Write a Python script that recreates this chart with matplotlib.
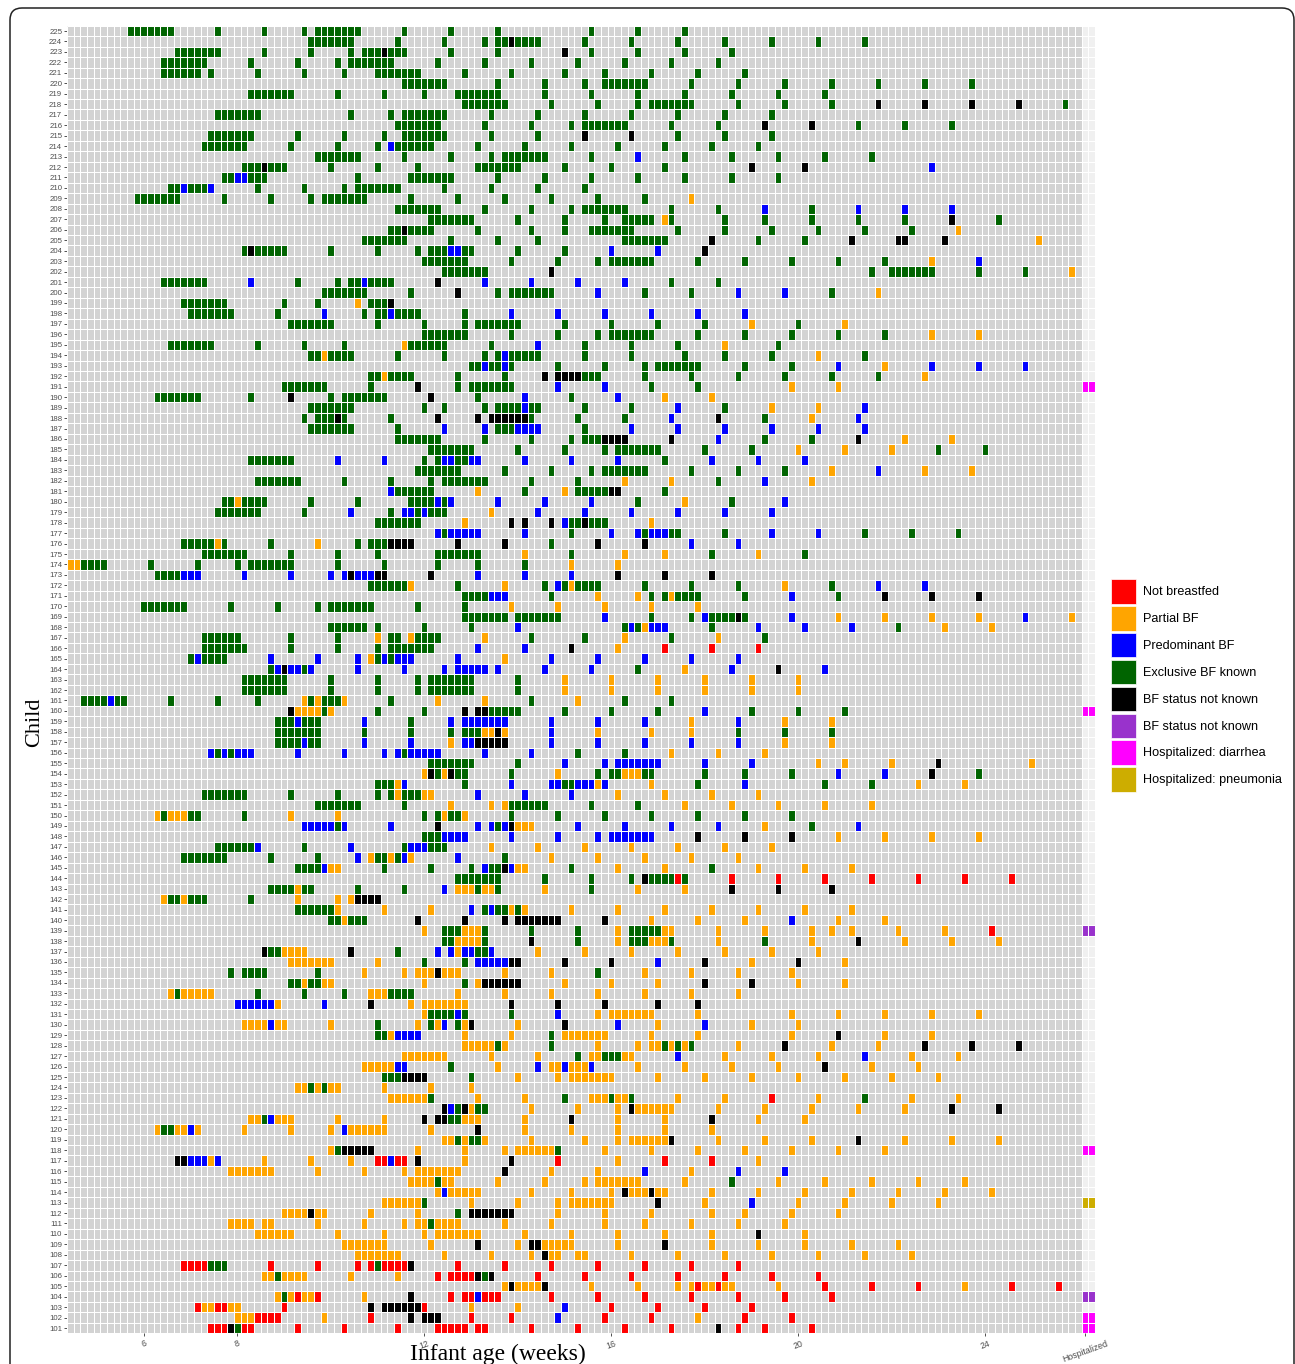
import numpy as np
import matplotlib
matplotlib.use("Agg")
import matplotlib.pyplot as plt
from matplotlib.colors import ListedColormap
from matplotlib.patches import Patch, FancyBboxPatch
from matplotlib.transforms import IdentityTransform

W, H = 1295, 1364
first_day = 31
n_days = 152
week_ticks = [6, 8, 12, 16, 20, 24]

status_labels = ["Not breastfed", "Partial BF", "Predominant BF", "Exclusive BF known",
                 "BF status not known", "BF status not known",
                 "Hospitalized: diarrhea", "Hospitalized: pneumonia"]
status_colors = ["#FF0000", "#FFA500", "#0000FF", "#006400", "#000000", "#9932CC", "#FF00FF", "#CDAD00"]

hosp_children = [191, 160, 139, 118, 113, 104, 102, 101]
hosp_codes = ["m", "m", "p", "m", "y", "p", "m", "m"]

# one string per child, day offsets from first_day; a letter sets the status for what follows
children_225_201 = [
"g 9-15 22 29 35 37-43 50 57 64 78 85 92",
"g 36-42 49 56 62 64 65 k 66 g 67-70 77 84 91 98 105 112 119",
"g 16-22 29 36 42 44-46 k 47 g 48-50 57 64 k 74 g 78 85 92 99",
"g 14-20 27 34 40 42-48 55 62 69 76 83 90 97",
"g 14-19 21 28 35 41 46-52 59 66 74 80 87 94 101",
"g 50-56 64 71 77 80-86 93 100 107 114 121 128 135",
"g 27-33 40 47 53 58-64 71 78 85 92 99 106 113",
"g 59-65 72 79 85 87-93 100 107 114 k 121 128 135 142 g 149",
"g 22-28 42 48 50-56 63 70 77 84 91 98 105",
"g 49-55 62 69 75 77-83 90 97 k 104 111 g 118 125 132",
"g 21-27 34 41 47 50-56 63 70 k 77 84 g 91 98 105",
"g 20-26 33 40 46 b 48 g 49-54 61 68 75 82 89 96 103",
"g 37-43 50 57 63 65-71 78 b 85 g 92 99 106 113 120",
"g 26-28 k 29 g 30-32 39 46 52 61-67 74 81 89 k 102 110 b 129",
"g 23 24 b 25 26 g 27-29 43 51-57 64 71 78 85 92 99 106",
"g 15 16 b 17 g 18-20 b 21 g 28 35 41 43-49 56 63 70 77",
"g 10-16 23 30 36 38-44 51 58 65 72 79 86 o 93",
"g 49-55 62 69 75 77-83 90 97 b 104 g 111 b 118 125 132",
"g 54-60 67 74 80 83-87 o 89 g 90 98 104 111 118 125 k 132 g 139",
"g 48 49 k 50 g 51-54 61 69 74 78-84 91 98 105 112 119 126 o 133",
"g 44-50 57 64 70 83-89 k 96 g 103 110 k 117 124 125 131 o 145",
"g 26 k 27 g 28-32 39 46 52 54-56 b 57 58 g 59 60 67 74 b 81 88 k 95",
"g 53-59 66 73 79 81-87 94 101 108 115 122 o 129 b 136",
"g 56-62 k 72 g 120 123-129 136 143 o 150",
"g 14-20 b 27 g 34 40 42 43 b 44 g 45-48 k 55 b 62 69 76 83 g 90 97",
]
children_200_176 = [
"g 38-44 51 k 58 g 64 66-72 b 79 g 86 93 b 100 107 g 114 o 121",
"g 17-23 32 37 o 43 g 45-47 k 48",
"g 18-24 31 b 38 g 44 46 47 b 48 g 49-52 59 b 66 73 80 87 94 101",
"g 33-39 46 53 59 61-67 74 81 88 95 o 102 g 109 o 116",
"g 53-59 66 73 79 81-87 94 101 108 115 122 o 129 136",
"g 15-21 28 35 41 o 50 g 51-56 63 b 70 g 77 84 91 o 98 g 106",
"g 36 37 o 38 g 39-42 49 56 62 64 b 65 g 66-70 77 84 92 98 105 o 112 g 119",
"g 60 61 b 62 g 63 64 b 65 g 66 73 80 86 88-94 101 108 b 115 o 122 b 129 136 143",
"g 45 46 o 47 g 48-51 58 65 k 71 73-76 g 77-79 86 93 100 107 114 121 o 128",
"g 32-38 45 k 52 g 58 60-66 b 73 80 g 87 94 o 108 115",
"g 13-19 27 k 33 g 39 41-47 k 54 g 61 b 68 g 75 b 82 o 89 96",
"g 36-42 53 56 62 64-67 b 68 g 69 70 77 84 b 91 g 98 o 105 112 b 119",
"g 35 37-39 k 40 g 41 48 k 55 61 63-68 g 69 76 83 b 90 k 97 g 104 o 111 b 118",
"g 36-42 49 b 56 62 g 64-66 b 67-70 g 77 b 84 91 98 105 112 119",
"g 49-55 62 69 75 77-79 k 80-83 90 b 97 g 104 111 k 118 o 125 132",
"g 54-60 67 74 80 82-88 95 102 o 109 116 123 g 130 137",
"g 27-33 b 40 47 g 53 55 b 56 57 g 58 59 b 60 61 68 75 82 g 89 b 96 103 110",
"g 52-58 65 72 78 80-86 93 100 107 o 114 b 121 o 128 135",
"g 28-34 41 48 54 56-62 69 76 o 83 90 g 97 b 104 o 111",
"b 48 g 49-54 o 61 g 68 o 74 g 76-80 k 81 82 g 89",
"g 23 24 o 25 g 26-29 36 43 51-54 b 55 g 56 b 57 64 71 78 g 85 o 92 g 99 b 107",
"g 22-28 35 b 42 g 48 b 50 51 g 52 b 53 g 54-56 o 63 b 70 77 84 91 98 105",
"g 46-52 o 59 k 66 68 72 b 74 g 75 76 k 77 g 78-80 o 87",
"b 55 g 56 b 57-61 68 g 75 b 81 85 g 86 b 87-89 g 90 91 98 b 105 112 g 119 126 133",
"g 17-21 o 22 g 23 30 o 37 g 43 45-47 k 48-51 58 65 g 72 k 79 86 b 93 100",
]
children_175_151 = [
"g 20-26 33 40 46 55-61 o 68 g 75 o 83 89 g 96 o 103 g 110",
"o 0 1 g 2-5 12 19 25 27-33 40 47 55 61 68 o 75 82",
"g 13-16 b 17-19 26 33 39 41 k 42 b 43-45 k 46 47 54 b 61 68 75 k 82 89 96",
"g 45-50 o 51 g 58 o 65 g 71 b 73 g 74 o 75 g 76-79 86 93 100 o 107 g 114 b 121 128",
"g 59-62 b 63-65 g 72 o 79 85 g 87 89 o 90 g 91-94 101 b 108 g 115 k 122 129 136",
"g 11-17 24 31 37 39-45 52 59 o 66 73 80 87 94",
"g 59-65 67-73 b 80 g 87 93 b 95 g 96-99 k 100 g 101 b 108 o 115 122 129 136 b 143 o 150",
"g 39-44 46 53 60 b 67 g 83 b 84 g 85 o 86 b 87-89 g 96 b 103 110 117 g 124 o 131 138",
"g 20-25 33 40 o 46 g 48 49 o 51 g 52-55 o 62 g 69 77 o 83 g 90 o 97 g 104",
"g 20-26 33 40 46 48-54 b 61 68 k 75 o 82 r 89 96 103",
"g 18 b 19 g 20-23 b 30 37 43 o 45 g 46 b 47 g 48 b 49-51 58 o 65 b 72 79 86 93 100",
"g 30 b 31 k 32 b 33 34 g 35 b 36 43 50 56 58-62 64 71 78 g 85 o 92 b 99 k 106 b 113",
"g 26-32 39 46 52 54-60 67 o 74 81 88 95 102 109",
"g 26-32 39 46 52 54-60 67 o 74 81 88 95 102 109",
"g 2-5 b 6 g 7 8 15 22 28 o 35 g 36 o 37 g 38-40 o 41 g 48 o 55 62 g 69 o 76 g 83 90",
"k 33 o 34-37 g 38 o 39 g 46 53 k 59 61 62 g 63-67 74 81 88 b 95 g 102 109 116",
"g 31-33 b 34 g 35-37 b 44 g 51 b 57 59-65 72 79 86 o 93 b 100 o 107 114",
"g 31-37 44 51 57 59-61 o 62 63 k 64 o 65 b 72 o 79 87 93 g 100 107 114",
"g 31-34 b 35 g 36 37 b 44 51 o 57 b 59 60 k 61-65 b 72 79 86 93 100 o 107 114",
"b 21 g 22 b 23 g 24 b 25-27 34 41 47 49 g 50 b 51-55 62 69 g 76 83 o 90 97 104",
"g 54-60 67 b 74 80 82-88 95 102 o 112 116 123 k 130 o 144",
"o 53 k 54 g 55 o 56 k 57 g 58 59 66 o 73 g 79 81 82 o 83-85 g 86 87 95 101 108 b 115 122 k 129 g 136",
"g 46-48 o 49 b 50 g 59 b 66 72 73 g 74 75 b 76-78 o 79 b 80 o 87 g 94 b 101 g 113 120 o 127 134",
"g 20-26 33 40 46 48 o 49 g 50-52 o 53 54 b 61 68 75 o 82 89 96 103",
"g 37-43 50 o 57 63 65 g 66-71 78 85 o 92 99 106 113 120",
]
children_150_126 = [
"o 13 g 14 o 15-17 g 18 19 26 o 33 40 g 53 55 o 56 g 57 58 o 59 g 66 73 80 87 94 101 108",
"b 35-39 g 40 b 41 48 k 55 b 61 63 g 64 b 65 k 66 o 67-69 b 76 83 90 97 o 104 g 111 b 118",
"g 53-55 b 56-59 66 73 79 81-87 k 94 101 108 o 115 122 129 136",
"g 22-27 b 28 g 35 b 42 g 50 b 51-53 g 54-56 o 63 70 77 84 91 98 105",
"g 17-23 30 37 b 43 o 45 g 46 47 o 48 g 49 b 50 o 51 b 58 g 65 o 72 79 86 93 100",
"g 34-37 b 38 o 39 40 g 47 54 60 b 62 g 63 64 k 65 b 66 o 67 68 g 75 o 82 89 g 96 o 103 110 117",
"g 58-64 71 78 84 k 86 g 87-90 r 91 g 92 r 99 106 113 120 127 134 141",
"g 30-33 o 34 g 35 36 43 50 b 56 o 58-60 g 61 o 62 63 g 64 o 71 g 78 o 85 92 k 99 106 114",
"o 14 g 15 16 o 17 g 18-20 27 o 34 40 42 k 43-46",
"g 34-39 o 40 47 54 b 60 g 62 b 63 g 64 65 o 66 g 67 o 68 75 82 89 96 103 110 117",
"g 39 40 o 41 g 42-44 k 52 59 65 67-73 80 o 87 94 101 b 108 o 115 122",
"o 53 g 56-58 o 59-61 g 62 69 76 o 82 g 84-88 o 89 90 97 104 111 114 117 124 131 r 138",
"g 56 57 o 58-61 g 62 k 69 g 76 o 82 g 84-86 o 87-89 g 90 o 97 g 104 o 111 k 118 o 125 132 139",
"k 29 g 30 31 o 32-35 k 42 g 49 b 55 57 o 58 b 59 60 g 61 62 b 63 o 70 77 84 91 98 105 112",
"o 33-39 46 g 53 59 b 61-65 k 66 67 74 81 b 88 k 95 o 102 k 109 o 116",
"g 24 26-29 37 o 44 50 52-54 k 55 o 56-58 65 72 g 79 o 86 93 100 108",
"g 33 34 o 35 g 36 37 o 38 39 53 g 59 o 61 k 62-67 o 74 81 88 k 95 102 o 109 116",
"o 15 g 16 o 17-21 g 28 35 41 o 45-47 g 48-51 o 58 65 72 79 86 93 100",
"b 25-30 o 31 b 38 k 45 o 51 53-59 k 66 73 80 88 94",
"o 53 g 54-57 b 58 g 59 66 b 73 o 79 81-87 94 108 115 122 129 136",
"o 26-29 b 30 o 31 32 39 g 46 o 52 g 54 o 55 b 56 g 58 o 59 k 60 o 67 k 74 b 82 o 88 b 95 o 102 109",
"g 46 47 o 48 b 49-52 o 59 66 g 72 o 74-80 87 94 108 k 115 o 122 129",
"o 59-63 g 64 o 65 g 72 o 79 85 87 88 g 89 o 90 g 91 o 92 g 93 o 100 k 107 o 114 121 k 128 135 142",
"o 50-56 63 70 g 76 o 78 79 g 80-82 o 83 84 b 91 o 98 105 112 b 119 o 126 133",
"o 44-48 b 49 50 g 57 o 64 b 70 o 72 73 b 74 o 75-77 b 78 o 85 92 99 106 k 113 o 120 127",
]
children_125_101 = [
"g 47-49 k 50-53 g 60 o 67 73 75-81 88 95 102 109 116 123 130",
"o 34 35 g 36 o 37 g 38 o 39 40 47 54 60",
"o 48-53 g 54 o 61 68 g 74 o 78-80 g 81 o 82 83 g 84 o 91 98 r 105 o 112 g 119 o 126 133",
"k 56 b 57 g 58 k 59 o 60 g 61 62 o 69 76 82 k 84 o 85-90 97 104 111 118 125 k 132 139",
"o 27 28 g 29 b 30 o 31-33 40 47 k 53 55 56 g 57 58 o 59-61 68 k 75 o 82 89 k 96 o 103 110",
"o 13 g 14 15 o 16 17 b 18 o 19 26 33 39 b 41 o 42-47 54 k 61 o 68 75 82 89 96",
"o 56 57 g 58 o 59 g 60 61 o 62 69 77 82 84-89 k 90 o 97 104 111 k 118 o 125 132 139",
"o 39 g 40 k 41-45 o 52 59 65 67-72 g 73 o 80 87 94 101 108 115 122",
"k 16 17 b 18-20 o 21 b 22 o 29 36 42 r 46 47 b 48 r 49 50 k 52 o 59 k 66 r 73 o 82 r 89 96 o 103",
"o 24-30 37 44 50 52-58 k 65 o 72 79 b 86 o 93 b 100 107",
"o 51-54 g 55 o 56 57 64 71 77 79-85 92 g 99 o 106 113 120 127 134",
"o 55 b 56 o 57-61 69 75 81 k 83 o 84-86 k 87 o 88 89 96 103 110 117 124 131 138",
"o 47-52 g 53 o 60 67 73 75-81 k 88 o 95 b 102 o 109 116 123 130",
"o 32-35 k 36 o 37 38 45 52 g 58 k 60-66 o 73 80 87 96 101 108 115",
"o 24-27 29 30 37 44 50 52 53 g 54 o 55-58 65 72 80 86 93 100 107",
"o 28-33 40 47 53 55-61 68 75 82 89 96 k 103 o 110",
"o 41-47 54 k 61 o 67 k 69 70 o 71-75 82 k 89 o 96 103 110 117 124",
"o 43-49 56 63 69 k 71 o 72 73 76 77 84 91 98 105 112 119 126",
"r 17-20 g 21-23 r 30 37 43 45 g 46 r 47-50 k 51 r 58 65 72 79 86 93 100",
"o 29 30 g 31 o 32-35 42 49 r 55 57-60 k 61 g 62 k 63 r 70 77 84 91 98 105 112",
"o 65 k 66 o 67-70 k 71 o 78 85 91 93 r 94 o 95 96 r 97 o 98 99 106 r 113 120 127 o 134 r 141 148",
"o 31 g 32 o 33 r 34 o 35 36 r 37 o 44 k 51 r 57 59 60 b 61 r 62-64 72 79 86 93 100 107 114",
"r 19 o 20 21 r 22 23 o 24 25 r 32 k 45 47-52 r 53 o 60 67 b 74 r 81 88 95 102",
"o 25-27 r 28-31 o 38 r 45 k 51 53-55 r 60 66 b 73 r 80 87 o 94 r 101 108",
"r 21-23 k 24 g 25 r 26 27 34 41 49 55-59 61 62 69 76 83 90 k 97 r 100 104 111",
]
records = children_225_201 + children_200_176 + children_175_151 + children_150_126 + children_125_101
child_ids = list(range(225, 100, -1))

codes = {"r": 2, "o": 3, "b": 4, "g": 5, "k": 6, "p": 7, "m": 8, "y": 9}
grid = np.zeros((len(child_ids), n_days + 2), dtype=int)
grid[:, n_days:] = 1
for i, rec in enumerate(records):
    state = 0
    for tok in rec.split():
        if tok.isalpha():
            state = codes[tok]
        else:
            a, _, b = tok.partition("-")
            grid[i, int(a):int(b or a) + 1] = state
for child, code in zip(hosp_children, hosp_codes):
    grid[child_ids.index(child), n_days:] = codes[code]

fig = plt.figure(figsize=(W / 100, H / 100), dpi=100, facecolor="white")
L, R, T, B = 67, 1095, 25.8, 1333.3
ax = fig.add_axes([L / W, 1 - B / H, (R - L) / W, (B - T) / H])

cmap = ListedColormap(["#D3D3D3", "#F0F0F0"] + status_colors)
xe = np.arange(n_days + 3) + first_day - 0.5
ye = np.array(child_ids[::-1] + [child_ids[0] + 1]) - 0.5
ax.pcolormesh(xe, ye, grid[::-1], cmap=cmap, vmin=-0.5, vmax=9.5, edgecolors="none", linewidth=0)
ax.vlines(xe, ye[0], ye[-1], color="white", linewidth=0.75)
ax.hlines(ye, xe[0], xe[-1], color="white", linewidth=0.75)
ax.set_xlim(xe[0], xe[-1])
ax.set_ylim(ye[0], ye[-1])
for s in ax.spines.values():
    s.set_visible(False)

ax.set_yticks(child_ids)
ax.set_yticklabels([str(c) for c in child_ids], fontsize=5.6, color="#4D4D4D", family="Liberation Sans")
ax.tick_params(axis="y", length=2, width=0.6, color="#333333", pad=1.5)

xt = [w * 7 for w in week_ticks] + [first_day + n_days]
ax.set_xticks(xt)
ax.set_xticklabels([str(w) for w in week_ticks] + ["Hospitalized"], fontsize=6.3, color="#4D4D4D",
                   family="Liberation Sans", rotation=20, ha="center")
ax.tick_params(axis="x", length=2, width=0.6, color="#333333", pad=2)

fig.text(35 / W, 1 - 722 / H, "Child", rotation=90, ha="center", va="center",
         family="Liberation Serif", fontsize=16, color="black")
fig.text(498 / W, 1 - 1354 / H, "Infant age (weeks)", ha="center", va="center",
         family="Liberation Serif", fontsize=17, color="black")

handles = [Patch(facecolor=c, edgecolor="white", linewidth=0.5) for c in status_colors]
fig.legend(handles, status_labels, loc="center left", bbox_to_anchor=(1111 / W, 1 - 685.5 / H),
           frameon=False, handlelength=1.95, handleheight=2.58,
           handletextpad=0.58, labelspacing=0.2, borderpad=0, borderaxespad=0,
           prop={"family": "Liberation Sans", "size": 9.1})

frame = FancyBboxPatch((10, -60), 1284, H + 60 - 8, boxstyle="round,pad=0,rounding_size=12",
                       transform=IdentityTransform(), facecolor="none", edgecolor="#222222",
                       linewidth=1.1)
fig.add_artist(frame)

fig.savefig("out.png", dpi=100)
